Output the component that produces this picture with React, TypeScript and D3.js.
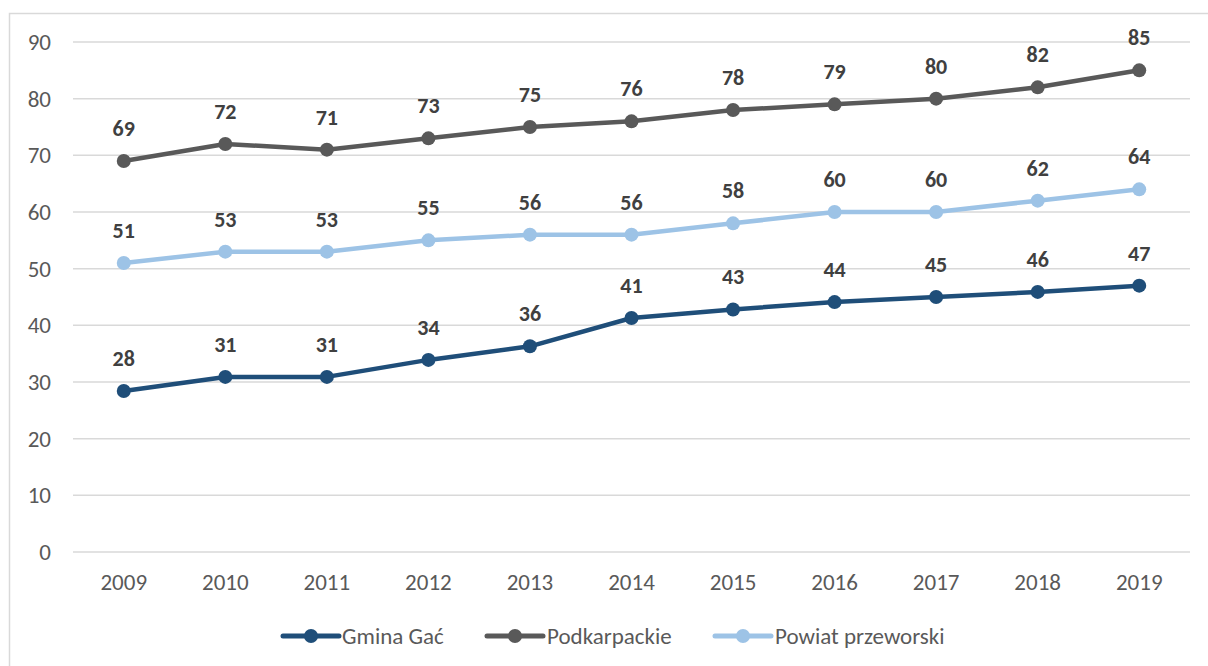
import React from "react";
import * as d3 from "d3";

const years = ["2009","2010","2011","2012","2013","2014","2015","2016","2017","2018","2019"];
const gminaGac = [28.4, 30.9, 30.9, 33.9, 36.3, 41.3, 42.8, 44.1, 45.0, 45.9, 47.0];
const gminaGacLabels = [28, 31, 31, 34, 36, 41, 43, 44, 45, 46, 47];
const podkarpackie = [69, 72, 71, 73, 75, 76, 78, 79, 80, 82, 85];
const powiat = [51, 53, 53, 55, 56, 56, 58, 60, 60, 62, 64];
const yTicks = [0, 10, 20, 30, 40, 50, 60, 70, 80, 90];

const seriesList = [
  { name: "Gmina Gać", values: gminaGac, labels: gminaGacLabels, color: "#1F4E79" },
  { name: "Podkarpackie", values: podkarpackie, labels: podkarpackie, color: "#595959" },
  { name: "Powiat przeworski", values: powiat, labels: powiat, color: "#9DC3E6" },
];

const W = 1208, H = 666;
const plotLeft = 73, plotRight = 1190, plotTop = 42, plotBottom = 552;
const font = "Carlito, Calibri, Lato, sans-serif";

export default function App() {
  const x = d3.scalePoint<string>().domain(years).range([plotLeft, plotRight]).padding(0.5);
  const y = d3.scaleLinear().domain([0, 90]).range([plotBottom, plotTop]);
  const line = d3.line<number>().x((_, i) => x(years[i])!).y((d) => y(d));
  const legendItems = [
    { lx: 283, tx: 342 },
    { lx: 487, tx: 547 },
    { lx: 715, tx: 775 },
  ];
  return (
    <svg width={W} height={H} style={{ position: "absolute", left: 0, top: 0, background: "#fff" }}>
      <rect x={9.5} y={13.5} width={W} height={H} fill="#fff" stroke="#D9D9D9" strokeWidth={1.5} />
      {yTicks.map((t) => (
        <g key={t}>
          <line x1={plotLeft} x2={plotRight} y1={y(t)} y2={y(t)} stroke="#D9D9D9" strokeWidth={1.5} />
          <text x={51} y={y(t)} dy="0.35em" textAnchor="end" fontFamily={font} fontSize={23} fill="#595959">{t}</text>
        </g>
      ))}
      {years.map((yr) => (
        <text key={yr} x={x(yr)} y={590} textAnchor="middle" fontFamily={font} fontSize={23} fill="#595959">{yr}</text>
      ))}
      {seriesList.map((s) => (
        <g key={s.name}>
          <path d={line(s.values)!} fill="none" stroke={s.color} strokeWidth={4.5} strokeLinejoin="round" />
          {s.values.map((v, i) => (
            <circle key={i} cx={x(years[i])} cy={y(v)} r={7} fill={s.color} />
          ))}
          {s.values.map((v, i) => (
            <text key={"l" + i} x={x(years[i])} y={y(v) - 25} textAnchor="middle" fontFamily={font} fontSize={22} fontWeight="bold" fill="#404040">{s.labels[i]}</text>
          ))}
        </g>
      ))}
      {seriesList.map((s, i) => (
        <g key={"lg" + s.name}>
          <line x1={legendItems[i].lx} x2={legendItems[i].lx + 56} y1={636} y2={636} stroke={s.color} strokeWidth={5} strokeLinecap="round" />
          <circle cx={legendItems[i].lx + 28} cy={636} r={7} fill={s.color} />
          <text x={legendItems[i].tx} y={636} dy="0.35em" fontFamily={font} fontSize={23} fill="#595959">{s.name}</text>
        </g>
      ))}
    </svg>
  );
}
